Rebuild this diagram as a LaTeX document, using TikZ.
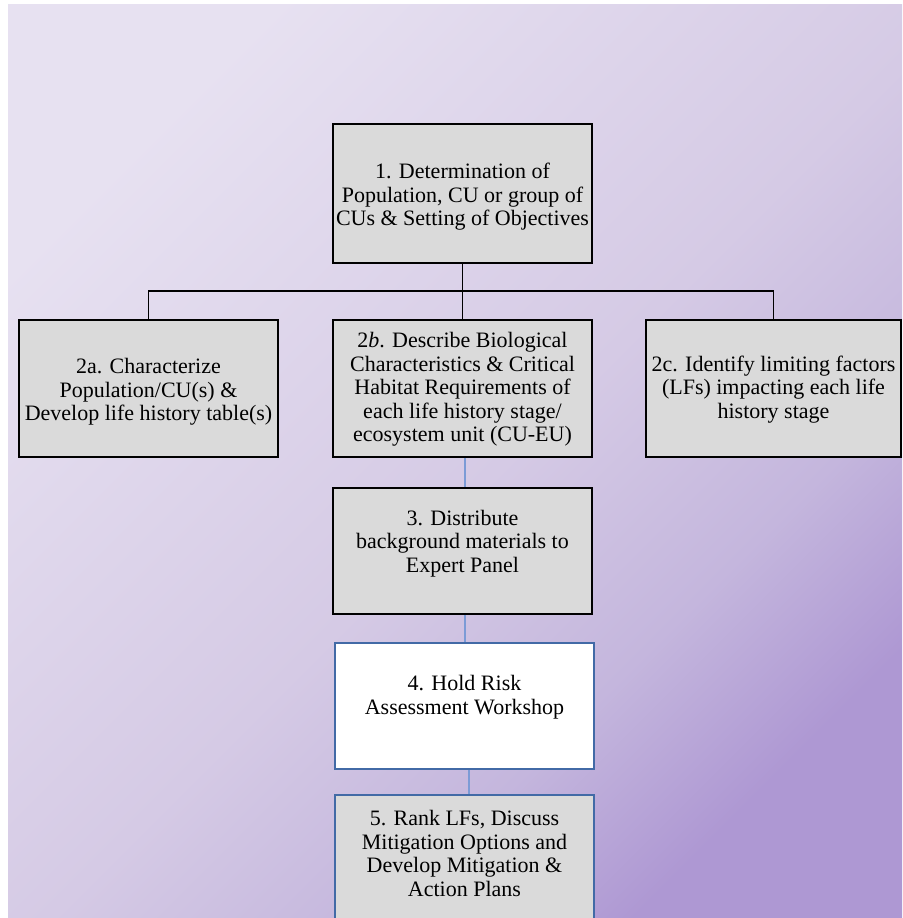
\documentclass[tikz,border=0pt]{standalone}
\usepackage{fontspec}
\setmainfont{Liberation Serif}

\definecolor{bgA}{RGB}{231,225,241}
\definecolor{bgB}{RGB}{213,202,229}
\definecolor{bgC}{RGB}{196,182,221}
\definecolor{bgD}{RGB}{174,152,211}
\definecolor{boxgray}{RGB}{218,218,218}
\definecolor{frameblue}{RGB}{66,106,166}
\definecolor{linkblue}{RGB}{124,155,214}

% diagonal lavender background
\pgfdeclarehorizontalshading{bgshade}{100bp}{%
  color(0bp)=(bgA); color(25bp)=(bgA); color(52bp)=(bgB);
  color(65bp)=(bgC); color(75bp)=(bgD); color(100bp)=(bgD)}

\begin{document}
\begin{tikzpicture}[x=1pt,y=-1pt,
  graybox/.style={draw=black, line width=1.6pt, fill=boxgray, inner sep=0pt},
  bluebox/.style={draw=frameblue, line width=2pt, inner sep=0pt},
  txt/.style={align=center, inner sep=0pt, font=\fontsize{22}{23.6}\selectfont},
  tree/.style={draw=black, line width=1.9pt},
  link/.style={draw=linkblue, line width=1.5pt}]

\useasboundingbox (0,0) rectangle (902,918);
\fill[white] (0,0) rectangle (902,918);
\shade[shading=bgshade, shading angle=-45] (8,4) rectangle (902,918);

% boxes
\node[graybox, minimum width=259pt, minimum height=139pt] (b1)  at (462.5,193.5) {};
\node[graybox, minimum width=259pt, minimum height=137pt] (b2a) at (148.5,388.5) {};
\node[graybox, minimum width=259pt, minimum height=137pt] (b2b) at (462.5,388.5) {};
\node[graybox, minimum width=255pt, minimum height=137pt] (b2c) at (773.5,388.5) {};
\node[graybox, minimum width=259pt, minimum height=126pt] (b3)  at (462.5,551) {};
\node[bluebox, fill=white, minimum width=259pt, minimum height=126pt] (b4) at (464.5,706) {};
\node[bluebox, fill=boxgray, minimum width=259pt, minimum height=150pt] (b5) at (464.5,870) {};

% labels
\node[txt] (t1)  at (462.5,197) {1. Determination of\\Population, CU or group of\\CUs \& Setting of Objectives};
\node[txt] (t2a) at (148.5,392) {2a. Characterize\\Population/CU(s) \&\\Develop life history table(s)};
\node[txt] (t2b) at (462.5,389.5) {2\textit{b}. Describe Biological\\Characteristics \& Critical\\Habitat Requirements of\\each life history stage/\\ecosystem unit (CU-EU)};
\node[txt] (t2c) at (773.5,389.5) {2c. Identify limiting factors\\(LFs) impacting each life\\history stage};
\node[txt] (t3)  at (462.5,543.5) {3. Distribute\\background materials to\\Expert Panel};
\node[txt] (t4)  at (464.5,697.5) {4. Hold Risk\\Assessment Workshop};
\node[txt] (t5)  at (464.5,853.5) {5. Rank LFs, Discuss\\Mitigation Options and\\Develop Mitigation \&\\Action Plans};

% branching tree from step 1
\coordinate (bus) at (462.5,292);
\draw[tree] (b1.south) -- (bus);
\draw[tree] (b2a.north) -- ++(0,-28) -| (b2c.north);
\draw[tree] (bus) -- (b2b.north);

% sequential links
\draw[link] ([xshift=2.5pt]b2b.south) -- ([xshift=2.5pt]b3.north);
\draw[link] ([xshift=2.5pt]b3.south) -- ([xshift=0.5pt]b4.north);
\draw[link] ([xshift=4.5pt]b4.south) -- ([xshift=4.5pt]b5.north);
\end{tikzpicture}
\end{document}
